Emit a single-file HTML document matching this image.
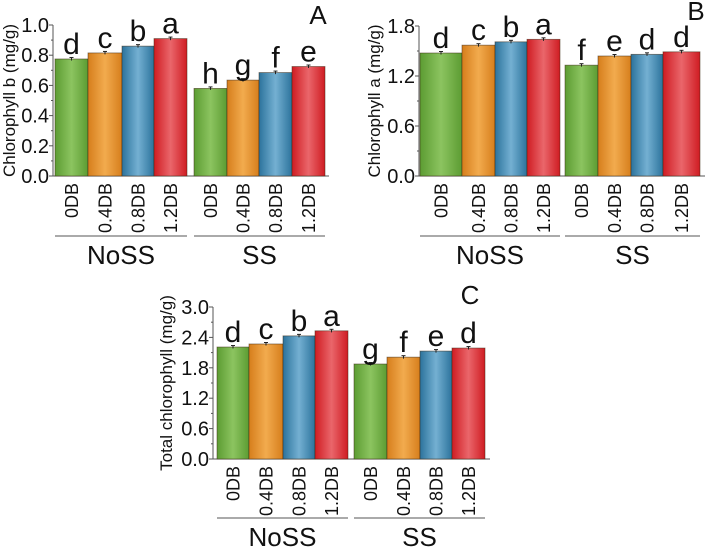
<!DOCTYPE html>
<html><head><meta charset="utf-8"><style>
body{margin:0;background:#fff;width:705px;height:551px;overflow:hidden}
svg{display:block;font-family:"Liberation Sans",Arial,sans-serif}
</style></head><body>
<svg id="chart" width="705" height="551" viewBox="0 0 705 551">
<defs>
<linearGradient id="gg" x1="0" x2="1"><stop offset="0" stop-color="#5c9c32"/><stop offset="0.5" stop-color="#8cc460"/><stop offset="1" stop-color="#5c9c32"/></linearGradient>
<linearGradient id="go" x1="0" x2="1"><stop offset="0" stop-color="#d67e1c"/><stop offset="0.5" stop-color="#f2ab4e"/><stop offset="1" stop-color="#d67e1c"/></linearGradient>
<linearGradient id="gb" x1="0" x2="1"><stop offset="0" stop-color="#2c739c"/><stop offset="0.5" stop-color="#74b0d2"/><stop offset="1" stop-color="#2c739c"/></linearGradient>
<linearGradient id="gr" x1="0" x2="1"><stop offset="0" stop-color="#cf1c22"/><stop offset="0.5" stop-color="#ea666b"/><stop offset="1" stop-color="#cf1c22"/></linearGradient>
</defs>
</svg>
<script>
const categories = ["0DB","0.4DB","0.8DB","1.2DB","0DB","0.4DB","0.8DB","1.2DB"];
const groups = ["NoSS","SS"];
const valuesA = [0.775,0.815,0.86,0.91,0.58,0.635,0.685,0.725];
const lettersA = ["d","c","b","a","h","g","f","e"];
const ticksA = [0.0,0.2,0.4,0.6,0.8,1.0];
const valuesB = [1.476,1.57,1.61,1.64,1.33,1.44,1.46,1.49];
const lettersB = ["d","c","b","a","f","e","d","d"];
const ticksB = [0.0,0.6,1.2,1.8];
const valuesC = [2.21,2.27,2.43,2.53,1.875,2.01,2.13,2.19];
const lettersC = ["d","c","b","a","g","f","e","d"];
const ticksC = [0.0,0.6,1.2,1.8,2.4,3.0];

const svg = document.getElementById('chart');
const NS = 'http://www.w3.org/2000/svg';
const fills = ['url(#gg)','url(#go)','url(#gb)','url(#gr)'];
function mk(tag, attrs, parent){const e=document.createElementNS(NS,tag);for(const k in attrs)e.setAttribute(k,attrs[k]);(parent||svg).appendChild(e);return e;}

function panel(p){
  const g = mk('g',{});
  
  
  const ymax = p.ticks[p.ticks.length-1];
  const y = v => p.y0 - v/ymax*(p.y0-p.y1);
  const ya = mk('line',{x1:p.ax,x2:p.ax,y1:p.y1,y2:p.y0,stroke:'#555','stroke-width':1},g);
   
  const xa = mk('line',{x1:p.ax,x2:p.axEnd,y1:p.y0,y2:p.y0,stroke:'#555','stroke-width':1},g);
   
  p.ticks.forEach((t,i)=>{
    mk('line',{x1:p.ax-4,x2:p.ax,y1:y(t),y2:y(t),stroke:'#555'},g);
    if(i<p.ticks.length-1){const m=(t+p.ticks[i+1])/2;mk('line',{x1:p.ax-2,x2:p.ax,y1:y(m),y2:y(m),stroke:'#555'},g);}
    const tl = mk('text',{x:p.ax-4,y:y(t)+7,'text-anchor':'end','font-size':20,fill:'#111'},g);
    tl.textContent = t.toFixed(1);
     
  });
  const yt = mk('text',{x:0,y:0,transform:`translate(${p.ylx},${(p.y0+p.y1)/2}) rotate(-90)`,'text-anchor':'middle','font-size':17,fill:'#111'},g);
  yt.textContent = p.ytitle;
   
  categories.forEach((c,i)=>{
    const xs = i>=4 ? p.bx[i+1] : p.bx[i];
    const xe = i>=4 ? p.bx[i+2] : p.bx[i+1];
    const v = p.vals[i];
    const r = mk('rect',{x:xs,y:y(v),width:xe-xs,height:p.y0-y(v),fill:fills[i%4],stroke:'rgba(60,40,20,0.6)','stroke-width':0.8},g);
    
    
    const cx=(xs+xe)/2;
    mk('line',{x1:cx,x2:cx,y1:y(v)-1.5,y2:y(v)+1.5,stroke:'#222','stroke-width':1},g);
    mk('line',{x1:cx-2,x2:cx+2,y1:y(v)-1.5,y2:y(v)-1.5,stroke:'#222','stroke-width':1},g);
    const lt = mk('text',{x:cx,y:y(v)-5,'text-anchor':'middle','font-size':30,fill:'#111'},g);
    lt.textContent = p.letters[i];
     
    const ct = mk('text',{x:0,y:0,transform:`translate(${cx+6.5},${p.y0+7}) rotate(-90)`,'text-anchor':'end','font-size':18,fill:'#111'},g);
    ct.textContent = c;
     
  });
  groups.forEach((gname,k)=>{
    const xs = k===0 ? p.bx[0] : p.bx[5], xe = k===0 ? p.bx[4] : p.bx[9];
    const gl = mk('line',{x1:xs,x2:xe,y1:p.gy,y2:p.gy,stroke:'#555'},g);
     
    const gt = mk('text',{x:(xs+xe)/2,y:p.gy+28,'text-anchor':'middle','font-size':26,fill:'#111'},g);
    gt.textContent = gname;
     
  });
  const pl = mk('text',{x:p.lx,y:p.ly,'text-anchor':'middle','font-size':26,fill:'#111'},g);
  pl.textContent = p.id;
   
}
panel({id:'A',vals:valuesA,letters:lettersA,ticks:ticksA,ax:53,axEnd:329,y0:176,y1:25,
  bx:[55,88,122,154,187,194,227,259,292,325],ylx:15,ytitle:'Chlorophyll b (mg/g)',gy:236,lx:318,ly:24});
panel({id:'B',vals:valuesB,letters:lettersB,ticks:ticksB,ax:419,axEnd:705,y0:176,y1:26,
  bx:[420,462,495,527,560,565,598,631,663,700],ylx:380,ytitle:'Chlorophyll a (mg/g)',gy:236,lx:696,ly:20});
panel({id:'C',vals:valuesC,letters:lettersC,ticks:ticksC,ax:213,axEnd:490,y0:459,y1:307,
  bx:[217,249,283,315,348,354,387,420,452,485],ylx:172,ytitle:'Total chlorophyll (mg/g)',gy:518,lx:470,ly:304});
</script>
</body></html>
